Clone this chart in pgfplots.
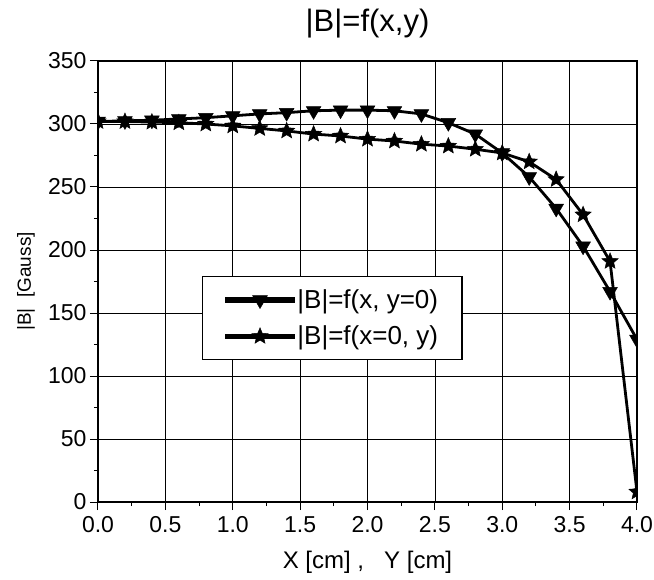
\documentclass[border=0pt]{standalone}
\usepackage{fontspec}
\setmainfont{Liberation Sans}
\usepackage{pgfplots}
\pgfplotsset{compat=1.18}

% filled five-pointed star mark
\pgfdeclareplotmark{fstar}{%
  \pgfpathmoveto{\pgfpointpolar{90}{\pgfplotmarksize}}%
  \pgfpathlineto{\pgfpointpolar{126}{0.45\pgfplotmarksize}}%
  \pgfpathlineto{\pgfpointpolar{162}{\pgfplotmarksize}}%
  \pgfpathlineto{\pgfpointpolar{198}{0.45\pgfplotmarksize}}%
  \pgfpathlineto{\pgfpointpolar{234}{\pgfplotmarksize}}%
  \pgfpathlineto{\pgfpointpolar{270}{0.45\pgfplotmarksize}}%
  \pgfpathlineto{\pgfpointpolar{306}{\pgfplotmarksize}}%
  \pgfpathlineto{\pgfpointpolar{342}{0.45\pgfplotmarksize}}%
  \pgfpathlineto{\pgfpointpolar{18}{\pgfplotmarksize}}%
  \pgfpathlineto{\pgfpointpolar{54}{0.45\pgfplotmarksize}}%
  \pgfpathclose
  \pgfusepathqfillstroke}
% filled downward triangle mark
\pgfdeclareplotmark{dtri}{%
  \pgfpathmoveto{\pgfpointpolar{270}{\pgfplotmarksize}}%
  \pgfpathlineto{\pgfpointpolar{30}{\pgfplotmarksize}}%
  \pgfpathlineto{\pgfpointpolar{150}{\pgfplotmarksize}}%
  \pgfpathclose
  \pgfusepathqfillstroke}

\begin{document}
\begin{tikzpicture}
\useasboundingbox (-98pt,-77pt) rectangle (556pt,502pt);
\begin{axis}[
    scale only axis,
    width=539pt, height=441pt,
    xmin=0, xmax=4, ymin=0, ymax=350,
    xtick={0,0.5,...,4}, ytick={0,50,...,350},
    minor x tick num=1, minor y tick num=1,
    xticklabel style={yshift=-3pt, /pgf/number format/.cd, fixed, fixed zerofill, precision=1},
    /pgf/number format/assume math mode=true,
    tick label style={font=\fontsize{23}{23}\selectfont},
    tick align=outside, tick pos=left,
    major tick length=8pt, minor tick length=4pt,
    every tick/.style={black, line width=1pt},
    axis line style={line width=1.4pt},
    grid=major,
    major grid style={black, line width=0.7pt},
    clip marker paths=true,
    title={|B|=f(x,y)},
    title style={font=\fontsize{31}{31}\selectfont, at={(axis description cs:0.5,1)}, anchor=center, yshift=31pt},
    xlabel={X [cm] ,\ \ \ Y [cm]},
    xlabel style={font=\fontsize{24}{24}\selectfont, at={(axis description cs:0.5,0)}, anchor=center, yshift=-60pt},
    ylabel={|B|\ \ [Gauss]},
    ylabel style={font=\fontsize{19}{19}\selectfont, at={(axis description cs:-0.1336,0.5)}, anchor=center},
    legend style={at={(axis description cs:0.193,0.512)}, anchor=north west,
        font=\fontsize{26}{26}\selectfont, draw=black, line width=1.2pt,
        inner xsep=22pt, inner ysep=11pt, row sep=12pt},
    legend cell align=left,
    legend image code/.code={%
        \fill[black] (0pt,-1.4pt) rectangle (68pt,1.4pt);
        \draw[#1] plot coordinates {(34pt,0pt)};},
]
\addplot[black, line width=2.8pt, mark=dtri, mark size=8.5pt,
    mark options={solid, line width=0.5pt}]
    coordinates {
        (0.0,302) (0.2,302.5) (0.4,303) (0.6,304) (0.8,305)
        (1.0,306.5) (1.2,308) (1.4,309) (1.6,310.5) (1.8,311)
        (2.0,311) (2.2,310.5) (2.4,308) (2.6,301) (2.8,292)
        (3.0,277) (3.2,258) (3.4,233) (3.6,203) (3.8,167) (4.0,129)
    };
\addlegendentry{|B|=f(x, y=0)}
\addplot[black, line width=2.8pt, mark=fstar, mark size=8.5pt,
    mark options={solid, line width=0.5pt}]
    coordinates {
        (0.0,302) (0.2,302) (0.4,301.5) (0.6,301) (0.8,300)
        (1.0,298.5) (1.2,296.5) (1.4,294.5) (1.6,292) (1.8,290.5)
        (2.0,288) (2.2,286.5) (2.4,284) (2.6,282.5) (2.8,280)
        (3.0,277) (3.2,270) (3.4,256) (3.6,228) (3.8,191) (4.0,8)
    };
\addlegendentry{|B|=f(x=0, y)}
\end{axis}
\end{tikzpicture}
\end{document}
